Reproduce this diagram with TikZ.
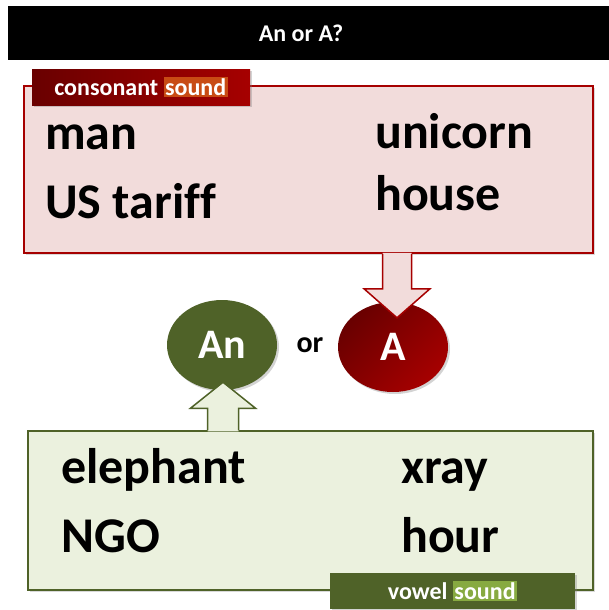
\documentclass[tikz,border=0pt]{standalone}
\usepackage{fontspec}
\setmainfont[Ligatures=CommonOff]{Carlito}
\usepackage{tikz}
\usetikzlibrary{shapes.geometric, shadows, calc, positioning}

\definecolor{consred}{RGB}{166,0,0}
\definecolor{consdark}{RGB}{105,0,0}
\definecolor{consfill}{RGB}{242,220,219}
\definecolor{consglow}{RGB}{200,75,20}
\definecolor{vowgreen}{RGB}{79,98,40}
\definecolor{vowfill}{RGB}{235,241,222}
\definecolor{vowglow}{RGB}{135,170,65}

\newcommand{\glowword}[2]{{\setlength{\fboxsep}{1.5pt}\colorbox{#1}{#2}}}

\tikzstyle{titlebar} = [rectangle, fill=black, minimum width=601pt, minimum height=54pt, inner sep=0pt]
\tikzstyle{soundbox} = [rectangle, line width=1.5pt, drop shadow={shadow xshift=2pt, shadow yshift=-2pt, opacity=0.3}]
\tikzstyle{tag} = [rectangle, minimum height=36pt, inner sep=0pt, text=white, font=\fontsize{24}{28}\selectfont\bfseries, drop shadow={shadow xshift=2pt, shadow yshift=-2pt, opacity=0.35}]
\tikzstyle{word} = [anchor=base west, inner sep=0pt, font=\fontsize{50}{60}\selectfont\bfseries]
\tikzstyle{article} = [ellipse, minimum width=110pt, minimum height=90pt, text=white, font=\fontsize{42}{50}\selectfont\bfseries, drop shadow={shadow xshift=2pt, shadow yshift=-2pt, opacity=0.35}]
\tikzstyle{arrowline} = [line width=1.5pt, line join=miter]

\begin{document}
\begin{tikzpicture}[x=1pt, y=-1pt]
    \useasboundingbox (0,0) rectangle (609,610);

    % title
    \node (bar) [titlebar] at (308.5,33) {};
    \node (title) [text=white, font=\fontsize{24}{28}\selectfont\bfseries] at (301,33) {An or A?};

    % consonant box
    \node (cons) [soundbox, draw=consred, fill=consfill, minimum width=569pt, minimum height=167pt] at (308.5,169.5) {};
    \node (constag) [tag, left color=consdark, right color=consred, minimum width=218pt] at (141,87) {consonant \glowword{consglow}{sound}};
    \node (man) [word] at (45,149) {man};
    \node (tariff) [word] at (45,218) {US tariff};
    \node (unicorn) [word] at (375,148) {unicorn};
    \node (house) [word] at (375,210) {house};

    % vowel box
    \node (vow) [soundbox, draw=vowgreen, fill=vowfill, minimum width=565pt, minimum height=159pt] at (310.5,510.5) {};
    \node (vowtag) [tag, fill=vowgreen, minimum width=245pt] at (452.5,591) {vowel \glowword{vowglow}{sound}};
    \node (elephant) [word] at (61,483) {elephant};
    \node (ngo) [word] at (61,552) {NGO};
    \node (xray) [word] at (401,483) {xray};
    \node (hour) [word] at (401,552) {hour};

    % an or a
    \node (An) [article, fill=vowgreen] at (222,345) {An};
    \node (or) [font=\fontsize{30}{36}\selectfont\bfseries] at (310,345) {or};
    \node (A) [article, top color=consdark, bottom color=consred, shading angle=45] at (393,347) {A};

    % block arrows
    \coordinate (dtop) at ($(cons.south -| A.north)+(4,0)$);
    \coordinate (dtip) at ($(A.north)+(4,16)$);
    \fill[consfill] ($(dtop)+(-14.5,-1)$) -- ($(dtop)+(-14.5,35)$) -- ($(dtop)+(-33,35)$) -- (dtip)
        -- ($(dtop)+(33,35)$) -- ($(dtop)+(14.5,35)$) -- ($(dtop)+(14.5,-1)$) -- cycle;
    \draw[arrowline, consred] ($(dtop)+(-14.5,0)$) -- ($(dtop)+(-14.5,35)$) -- ($(dtop)+(-33,35)$) -- (dtip)
        -- ($(dtop)+(33,35)$) -- ($(dtop)+(14.5,35)$) -- ($(dtop)+(14.5,0)$);

    \coordinate (utop) at ($(vow.north -| An.south)+(1,0)$);
    \coordinate (utip) at ($(An.south)+(1,-8)$);
    \fill[vowfill] ($(utop)+(-15.5,1)$) -- ($(utop)+(-15.5,-22)$) -- ($(utop)+(-32.5,-22)$) -- (utip)
        -- ($(utop)+(32.5,-22)$) -- ($(utop)+(15.5,-22)$) -- ($(utop)+(15.5,1)$) -- cycle;
    \draw[arrowline, vowgreen] ($(utop)+(-15.5,0)$) -- ($(utop)+(-15.5,-22)$) -- ($(utop)+(-32.5,-22)$) -- (utip)
        -- ($(utop)+(32.5,-22)$) -- ($(utop)+(15.5,-22)$) -- ($(utop)+(15.5,0)$);
\end{tikzpicture}
\end{document}
